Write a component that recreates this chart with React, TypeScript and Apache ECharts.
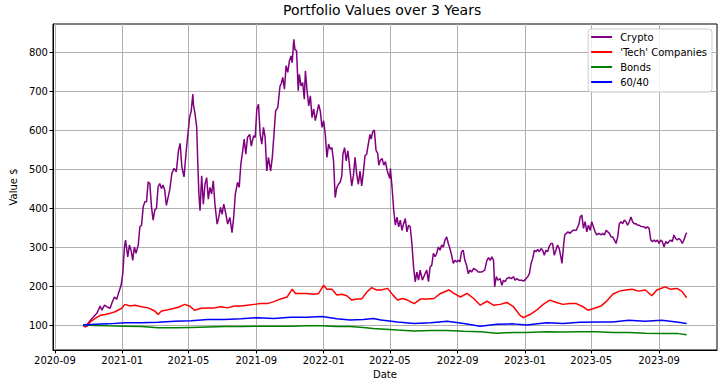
import React, { useEffect, useRef } from "react";
import * as echarts from "echarts";

// Day offsets are counted from 2020-09-01
const BASE_DATE = Date.UTC(2020, 8, 1);
const DAY_MS = 86400000;

const seriesNames = ["Crypto", "'Tech' Companies", "Bonds", "60/40"];
const seriesColors = ["#800080", "#ff0000", "#008000", "#0000ff"];

const xTickDates = [
  [2020, 9], [2021, 1], [2021, 5], [2021, 9], [2022, 1],
  [2022, 5], [2022, 9], [2023, 1], [2023, 5], [2023, 9],
];
const yTicks = [100, 200, 300, 400, 500, 600, 700, 800];

// [day offset, value]
const crypto: [number, number][] = [
  [51,100],[55,96],[61,107],[67,118],[76,131],[82,150],[85,139],[90,152],[94,148],[100,144],
  [104,160],[108,173],[112,167],[116,186],[120,203],[123,233],[126,301],[128,319],[132,276],[135,306],
  [138,293],[141,267],[144,301],[147,285],[151,306],[154,353],[157,357],[160,404],[163,417],[166,417],
  [169,468],[172,464],[175,404],[178,370],[181,396],[184,400],[187,455],[190,464],[193,451],[196,460],
  [199,447],[202,408],[208,447],[212,490],[216,503],[220,494],[224,549],[227,567],[230,507],[234,481],
  [238,548],[241,590],[244,633],[247,650],[250,693],[251,667],[254,642],[257,608],[259,514],[261,437],
  [263,394],[266,484],[269,411],[272,462],[275,479],[278,424],[281,454],[284,437],[287,471],[290,411],
  [294,360],[297,377],[300,403],[303,385],[306,411],[310,385],[313,360],[317,377],[321,338],[324,377],
  [327,437],[331,467],[334,454],[337,514],[340,544],[343,578],[346,539],[349,582],[353,590],[356,560],
  [360,586],[363,582],[366,655],[369,667],[372,590],[375,565],[378,608],[381,582],[384,496],[387,531],
  [391,496],[394,531],[397,590],[400,650],[404,659],[408,714],[410,719],[413,736],[416,706],[419,766],
  [422,749],[425,778],[428,791],[430,774],[433,834],[435,808],[438,804],[441,702],[443,744],[446,714],
  [449,723],[452,680],[454,753],[457,702],[460,663],[463,689],[466,633],[469,655],[472,625],[475,645],
  [478,667],[481,650],[484,608],[487,625],[490,590],[493,531],[496,565],[499,552],[502,556],[505,522],
  [508,428],[511,454],[514,462],[517,467],[520,484],[522,539],[525,556],[528,522],[531,548],[535,496],
  [538,458],[541,484],[544,531],[547,488],[550,462],[553,496],[556,458],[559,492],[562,535],[565,539],
  [568,565],[571,590],[573,578],[576,596],[579,601],[582,549],[585,541],[587,511],[590,524],[593,528],
  [596,511],[599,520],[602,498],[605,485],[607,477],[608,503],[611,455],[614,396],[617,357],[620,378],
  [623,353],[626,370],[629,344],[632,361],[635,374],[638,340],[641,357],[644,353],[647,310],[650,250],
  [653,212],[656,237],[659,216],[662,242],[666,216],[671,233],[674,242],[677,212],[680,250],[683,254],
  [686,285],[689,276],[692,285],[695,301],[698,293],[701,306],[704,301],[707,319],[710,327],[713,310],
  [716,297],[719,280],[722,259],[725,267],[728,263],[731,267],[734,263],[737,289],[740,293],[743,267],
  [746,255],[749,233],[752,242],[755,237],[759,246],[764,242],[767,237],[771,237],[774,237],[779,242],
  [783,267],[786,274],[789,267],[792,276],[795,267],[797,199],[800,225],[803,216],[807,220],[810,203],
  [813,216],[816,212],[819,220],[823,223],[827,220],[831,225],[834,216],[837,220],[841,216],[846,216],
  [850,214],[854,220],[857,225],[860,233],[863,259],[866,272],[869,293],[872,289],[875,295],[878,289],
  [881,297],[884,293],[887,280],[890,293],[893,289],[896,303],[899,310],[902,310],[905,280],[908,293],
  [911,306],[914,297],[917,276],[919,259],[922,306],[924,332],[927,336],[930,340],[933,336],[936,340],
  [939,344],[942,344],[945,344],[950,361],[952,378],[955,383],[958,349],[961,366],[964,340],[967,357],
  [970,344],[973,366],[976,353],[979,340],[982,332],[986,336],[990,332],[993,336],[996,332],[999,344],
  [1002,340],[1005,336],[1008,327],[1011,327],[1014,319],[1017,310],[1020,327],[1023,361],[1026,366],[1029,361],
  [1032,370],[1035,366],[1038,357],[1041,366],[1044,378],[1047,366],[1050,361],[1053,361],[1056,357],[1059,357],
  [1062,354],[1066,353],[1068,353],[1071,349],[1074,353],[1077,349],[1080,319],[1083,315],[1086,319],[1089,315],
  [1092,319],[1095,310],[1098,319],[1101,315],[1104,301],[1107,315],[1110,310],[1113,315],[1116,319],[1119,315],
  [1122,332],[1125,323],[1128,319],[1131,323],[1134,319],[1137,310],[1140,319],[1143,332],[1145,338],
];

const tech: [number, number][] = [
  [51,101],[58,97],[64,109],[73,118],[82,126],[91,128],[100,131],[109,135],[121,144],[127,154],
  [136,150],[145,152],[157,148],[169,145],[181,137],[187,128],[193,137],[205,140],[217,144],[226,148],
  [235,154],[244,150],[253,139],[265,144],[277,145],[289,145],[301,148],[313,145],[325,150],[337,150],
  [349,152],[361,154],[373,156],[385,156],[397,161],[409,168],[421,173],[430,193],[436,182],[445,182],
  [457,182],[469,180],[478,182],[487,203],[493,193],[502,193],[511,178],[520,180],[529,176],[538,165],
  [547,168],[556,168],[565,185],[574,197],[583,191],[591,191],[603,195],[612,179],[621,165],[630,169],
  [639,165],[651,156],[663,168],[675,168],[687,169],[699,182],[714,191],[723,182],[735,173],[747,182],
  [759,169],[771,152],[783,162],[795,152],[807,154],[819,159],[831,148],[843,126],[849,120],[861,128],
  [873,139],[885,154],[897,165],[909,159],[921,154],[933,156],[945,156],[957,148],[966,139],[978,144],
  [990,150],[999,161],[1011,180],[1023,188],[1034,191],[1046,193],[1058,188],[1070,191],[1082,176],[1091,191],
  [1106,199],[1115,193],[1127,195],[1136,188],[1145,171],
];

const bonds: [number, number][] = [
  [51,101],[73,100],[97,99],[127,98],[157,97],[187,94],[217,94],[247,95],[277,96],[307,97],
  [337,97],[367,98],[397,98],[427,98],[457,99],[484,99],[511,97],[535,97],[559,95],[577,92],
  [591,91],[621,88],[651,86],[681,87],[711,87],[741,85],[771,84],[801,80],[831,82],[855,82],
  [891,84],[921,83],[951,84],[981,84],[1011,82],[1040,82],[1070,80],[1100,79],[1130,79],[1145,76],
];

const sixtyForty: [number, number][] = [
  [51,101],[73,103],[97,104],[127,107],[157,107],[187,108],[217,111],[247,112],[277,115],[307,115],
  [337,117],[367,120],[397,118],[427,121],[457,121],[484,123],[511,117],[535,114],[559,115],[577,118],
  [591,114],[621,109],[651,105],[681,107],[711,111],[741,105],[771,98],[801,103],[831,104],[855,101],
  [891,107],[921,105],[951,108],[981,109],[1011,109],[1040,113],[1070,111],[1100,113],[1130,108],[1145,105],
];

const toTs = (d: number) => BASE_DATE + d * DAY_MS;
const toSeriesData = (arr: [number, number][]) => arr.map(([d, v]) => [toTs(d), v]);

const FONT = "DejaVu Sans";

export default function App() {
  const ref = useRef<HTMLDivElement>(null);
  useEffect(() => {
    if (!ref.current) return;
    const chart = echarts.init(ref.current, null, { renderer: "svg" });
    const xTicks = xTickDates.map(([y, m]) => Date.UTC(y, m - 1, 1));
    const fmt = (v: number) => {
      const dt = new Date(v);
      return `${dt.getUTCFullYear()}-${String(dt.getUTCMonth() + 1).padStart(2, "0")}`;
    };
    const allData = [crypto, tech, bonds, sixtyForty];
    chart.setOption({
      animation: false,
      backgroundColor: "#ffffff",
      title: {
        text: "Portfolio Values over 3 Years",
        left: 283,
        top: 3,
        padding: 0,
        textStyle: { fontFamily: FONT, fontSize: 14, fontWeight: "normal", color: "#000" },
      },
      legend: {
        data: seriesNames,
        orient: "vertical",
        right: 12,
        top: 29,
        padding: [2, 5, 4, 3],
        itemGap: 3,
        itemWidth: 21,
        itemHeight: 2,
        icon: "rect",
        backgroundColor: "rgba(255,255,255,0.8)",
        borderColor: "#cccccc",
        borderWidth: 1,
        borderRadius: 3,
        textStyle: { fontFamily: FONT, fontSize: 10, color: "#000", lineHeight: 12, padding: [0, 0, 0, 3] },
      },
      grid: {
        left: 48,
        right: 7,
        top: 24,
        bottom: 38,
        show: true,
        borderColor: "#000",
        borderWidth: 1,
        backgroundColor: "transparent",
      },
      xAxis: {
        type: "value",
        min: toTs(-3.5),
        max: toTs(1200),
        name: "Date",
        nameLocation: "middle",
        nameGap: 19,
        nameTextStyle: { fontFamily: FONT, fontSize: 10, color: "#000" },
        axisLine: { show: true, lineStyle: { color: "#000", width: 1 } },
        axisTick: { show: true, length: 3.5, lineStyle: { color: "#000" }, customValues: xTicks },
        axisLabel: {
          customValues: xTicks,
          formatter: (v: number) => fmt(v),
          fontFamily: FONT,
          fontSize: 10,
          color: "#000",
          margin: 5,
          showMinLabel: true,
          showMaxLabel: true,
        },
        splitLine: { show: true, lineStyle: { color: "#b0b0b0", width: 1 } },
      },
      yAxis: {
        type: "value",
        min: 37,
        max: 873,
        name: "Value $",
        nameLocation: "middle",
        nameGap: 34,
        nameTextStyle: { fontFamily: FONT, fontSize: 10, color: "#000" },
        axisLine: { show: true, lineStyle: { color: "#000", width: 1 } },
        axisTick: { show: true, length: 3.5, lineStyle: { color: "#000" }, customValues: yTicks },
        axisLabel: {
          customValues: yTicks,
          fontFamily: FONT,
          fontSize: 10,
          color: "#000",
          margin: 5,
        },
        splitLine: { show: true, lineStyle: { color: "#b0b0b0", width: 1 } },
      },
      series: allData.map((arr, i) => ({
        name: seriesNames[i],
        type: "line",
        data: toSeriesData(arr),
        showSymbol: false,
        symbol: "none",
        lineStyle: { color: seriesColors[i], width: 1.5 },
        itemStyle: { color: seriesColors[i] },
        z: 2 + i,
      })),
    });
    return () => chart.dispose();
  }, []);
  return (
    <div
      ref={ref}
      style={{ position: "fixed", left: 0, top: 0, width: 724, height: 388 }}
    />
  );
}
